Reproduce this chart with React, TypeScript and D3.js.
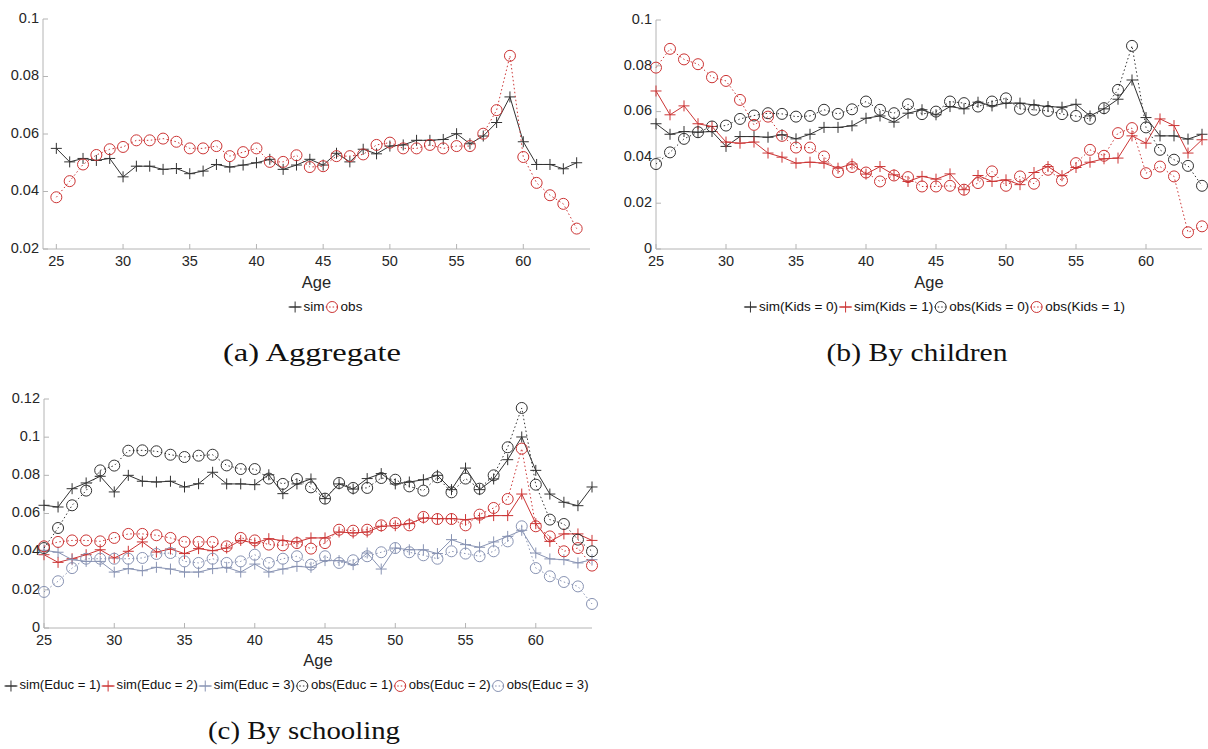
import React, { useMemo } from "react";
import * as d3 from "d3";

// ---------- data ----------
const ages = [25, 26, 27, 28, 29, 30, 31, 32, 33, 34, 35, 36, 37, 38, 39, 40, 41, 42, 43, 44,
  45, 46, 47, 48, 49, 50, 51, 52, 53, 54, 55, 56, 57, 58, 59, 60, 61, 62, 63, 64];
const xTicks = [25, 30, 35, 40, 45, 50, 55, 60];

// (a) Aggregate
const aggSim = [0.055, 0.0503, 0.0515, 0.0508, 0.0515, 0.0451, 0.0488, 0.0488, 0.0477, 0.048,
  0.0462, 0.0471, 0.0494, 0.0485, 0.0492, 0.05, 0.0512, 0.0477, 0.0492, 0.0512,
  0.0492, 0.0533, 0.0503, 0.0547, 0.0531, 0.0558, 0.0562, 0.0578, 0.0578, 0.0581,
  0.0601, 0.0566, 0.0593, 0.064, 0.0729, 0.0573, 0.0494, 0.0494, 0.0479, 0.05];
const aggObs = [0.038, 0.0436, 0.0494, 0.0527, 0.0547, 0.0555, 0.0578, 0.0578, 0.0584, 0.0573,
  0.055, 0.055, 0.0558, 0.0523, 0.0537, 0.055, 0.0503, 0.0503, 0.0526, 0.0485,
  0.0488, 0.0523, 0.0523, 0.0529, 0.0562, 0.057, 0.055, 0.055, 0.0562, 0.055,
  0.0558, 0.0558, 0.0601, 0.0683, 0.0872, 0.052, 0.043, 0.0387, 0.0357, 0.0271];

// (b) By children
const kids0Sim = [0.0547, 0.0501, 0.0513, 0.051, 0.0513, 0.0448, 0.0491, 0.0491, 0.0488, 0.0499,
  0.0481, 0.0501, 0.0531, 0.0531, 0.0538, 0.0571, 0.0581, 0.0554, 0.0593, 0.0608,
  0.0586, 0.0622, 0.0612, 0.0641, 0.0625, 0.0637, 0.0637, 0.0629, 0.0622, 0.0619,
  0.0632, 0.0581, 0.0612, 0.0654, 0.0738, 0.0574, 0.0494, 0.0494, 0.048, 0.0501];
const kids1Sim = [0.069, 0.0586, 0.0625, 0.0547, 0.0535, 0.0467, 0.0462, 0.0467, 0.0419, 0.0401,
  0.0375, 0.0379, 0.0375, 0.0353, 0.0371, 0.0327, 0.036, 0.0324, 0.0295, 0.0317,
  0.0305, 0.0328, 0.0259, 0.0321, 0.0295, 0.0302, 0.0281, 0.0334, 0.036, 0.032,
  0.0356, 0.0379, 0.0394, 0.0397, 0.0494, 0.0462, 0.0568, 0.0539, 0.0419, 0.0477];
const kids0Obs = [0.0371, 0.0422, 0.0481, 0.051, 0.0535, 0.0539, 0.0568, 0.0583, 0.0593, 0.059,
  0.0578, 0.0581, 0.0608, 0.059, 0.061, 0.0644, 0.0608, 0.0593, 0.0632, 0.0589,
  0.06, 0.0644, 0.0637, 0.0622, 0.0644, 0.0658, 0.0612, 0.0608, 0.0603, 0.0589,
  0.0581, 0.0568, 0.0615, 0.0695, 0.0887, 0.0531, 0.0433, 0.039, 0.0363, 0.0276];
const kids1Obs = [0.0792, 0.0874, 0.0828, 0.0807, 0.075, 0.0734, 0.0651, 0.0542, 0.0578, 0.0494,
  0.0443, 0.0443, 0.0404, 0.0336, 0.0358, 0.0334, 0.0295, 0.0321, 0.0314, 0.0273,
  0.0273, 0.0276, 0.0259, 0.0288, 0.0339, 0.0276, 0.0317, 0.0285, 0.0346, 0.0299,
  0.0375, 0.0433, 0.0407, 0.0506, 0.0528, 0.0331, 0.036, 0.0317, 0.0073, 0.0099];

// (c) By schooling
const educ1Sim = [0.0643, 0.0634, 0.073, 0.076, 0.0795, 0.0713, 0.08, 0.0769, 0.0765, 0.0769,
  0.0739, 0.0756, 0.0816, 0.0755, 0.0755, 0.0751, 0.0803, 0.0704, 0.0755, 0.0781,
  0.0678, 0.0755, 0.0728, 0.0783, 0.0809, 0.0755, 0.0765, 0.0777, 0.08, 0.0725,
  0.0838, 0.0725, 0.0781, 0.0882, 0.1001, 0.0826, 0.0702, 0.0659, 0.0641, 0.0739];
const educ2Sim = [0.0384, 0.0344, 0.0363, 0.0384, 0.041, 0.0367, 0.0402, 0.0451, 0.0398, 0.0414,
  0.039, 0.0416, 0.0405, 0.0419, 0.0459, 0.0445, 0.0468, 0.0458, 0.0451, 0.0472,
  0.0472, 0.0503, 0.0498, 0.0503, 0.0533, 0.0536, 0.0547, 0.0576, 0.0573, 0.0573,
  0.0568, 0.0576, 0.0589, 0.0589, 0.0702, 0.0547, 0.0454, 0.0493, 0.0493, 0.0459];
const educ3Sim = [0.0407, 0.0397, 0.0358, 0.0349, 0.0349, 0.0293, 0.0311, 0.03, 0.0318, 0.0309,
  0.0293, 0.0293, 0.0311, 0.0318, 0.0293, 0.0335, 0.0293, 0.0309, 0.0323, 0.0318,
  0.0353, 0.0353, 0.0332, 0.0393, 0.0309, 0.0419, 0.041, 0.041, 0.039, 0.0463,
  0.0437, 0.0423, 0.0451, 0.048, 0.0512, 0.0393, 0.0362, 0.0358, 0.0341, 0.0358];
const educ1Obs = [0.0419, 0.0524, 0.0643, 0.072, 0.0826, 0.0851, 0.0929, 0.0931, 0.0926, 0.0908,
  0.0896, 0.0903, 0.0908, 0.0852, 0.0833, 0.0833, 0.0783, 0.0755, 0.0781, 0.0737,
  0.0678, 0.076, 0.0734, 0.0734, 0.0786, 0.0777, 0.0742, 0.072, 0.079, 0.0711,
  0.0783, 0.073, 0.08, 0.0947, 0.1153, 0.0751, 0.0568, 0.0545, 0.0463, 0.0402];
const educ2Obs = [0.0428, 0.0451, 0.0459, 0.0459, 0.0454, 0.0472, 0.0493, 0.0493, 0.0486, 0.0472,
  0.0451, 0.0451, 0.0451, 0.0428, 0.0472, 0.0459, 0.0437, 0.0433, 0.0445, 0.0416,
  0.0445, 0.0515, 0.051, 0.0515, 0.0538, 0.055, 0.0538, 0.0582, 0.0571, 0.0571,
  0.0538, 0.0594, 0.0629, 0.0676, 0.094, 0.0533, 0.048, 0.0402, 0.0419, 0.0327];
const educ3Obs = [0.0189, 0.0245, 0.0314, 0.0363, 0.0363, 0.0363, 0.0363, 0.0367, 0.0388, 0.0393,
  0.0349, 0.0341, 0.0363, 0.0341, 0.0349, 0.0384, 0.0341, 0.0363, 0.0376, 0.0332,
  0.0376, 0.0341, 0.0355, 0.0376, 0.0397, 0.0419, 0.0397, 0.0381, 0.0363, 0.0402,
  0.039, 0.0376, 0.0402, 0.0454, 0.0533, 0.0314, 0.0271, 0.0241, 0.0218, 0.0126];

const yTicksA = [0.02, 0.04, 0.06, 0.08, 0.1];
const yTicksB = [0, 0.02, 0.04, 0.06, 0.08, 0.1];
const yTicksC = [0, 0.02, 0.04, 0.06, 0.08, 0.1, 0.12];

const legendA = ["sim", "obs"];
const legendB = ["sim(Kids = 0)", "sim(Kids = 1)", "obs(Kids = 0)", "obs(Kids = 1)"];
const legendC = ["sim(Educ = 1)", "sim(Educ = 2)", "sim(Educ = 3)", "obs(Educ = 1)", "obs(Educ = 2)", "obs(Educ = 3)"];

// ---------- style ----------
const BLACK = "#333333";
const RED = "#cc3535";
const BLUE = "#8893b3";
const AXIS = "#b4b4b4";
const TEXT = "#262626";
const SANS = "'Liberation Sans', Arial, Helvetica, sans-serif";
const SERIF = "'Liberation Serif', 'Times New Roman', serif";

type Series = { values: number[]; color: string; kind: "sim" | "obs"; label: string };

function mk(values: number[], color: string, kind: "sim" | "obs", label: string): Series {
  return { values, color, kind, label };
}

const panels = [
  {
    key: "a",
    left: 43, right: 590, top: 19, bottom: 249,
    xDomain: [24, 65], yDomain: [0.02, 0.1], yTicks: yTicksA,
    series: [mk(aggSim, BLACK, "sim", legendA[0]), mk(aggObs, RED, "obs", legendA[1])],
    legendCx: 326, legendY: 307, legendFont: 13.5,
    ageY: 284,
    caption: "(a) Aggregate", captionCx: 312, captionY: 355, captionLen: 178,
  },
  {
    key: "b",
    left: 656, right: 1202, top: 20, bottom: 249,
    xDomain: [25, 64], yDomain: [0, 0.1], yTicks: yTicksB,
    series: [
      mk(kids0Sim, BLACK, "sim", legendB[0]), mk(kids1Sim, RED, "sim", legendB[1]),
      mk(kids0Obs, BLACK, "obs", legendB[2]), mk(kids1Obs, RED, "obs", legendB[3]),
    ],
    legendCx: 935, legendY: 307, legendFont: 13.5,
    ageY: 284,
    caption: "(b) By children", captionCx: 917, captionY: 355, captionLen: 181,
  },
  {
    key: "c",
    left: 44, right: 592, top: 399, bottom: 628,
    xDomain: [25, 64], yDomain: [0, 0.12], yTicks: yTicksC,
    series: [
      mk(educ1Sim, BLACK, "sim", legendC[0]), mk(educ2Sim, RED, "sim", legendC[1]), mk(educ3Sim, BLUE, "sim", legendC[2]),
      mk(educ1Obs, BLACK, "obs", legendC[3]), mk(educ2Obs, RED, "obs", legendC[4]), mk(educ3Obs, BLUE, "obs", legendC[5]),
    ],
    legendCx: 297, legendY: 686, legendFont: 13.1,
    ageY: 662,
    caption: "(c) By schooling", captionCx: 304, captionY: 733, captionLen: 192,
  },
];

const fmt = (v: number) => String(+v.toFixed(2));

let _ctx: CanvasRenderingContext2D | null = null;
function measure(text: string, font: string): number {
  if (!_ctx) _ctx = document.createElement("canvas").getContext("2d");
  if (!_ctx) return text.length * 7;
  _ctx.font = font;
  return _ctx.measureText(text).width;
}

function Marker({ kind, x, y, color }: { kind: "sim" | "obs"; x: number; y: number; color: string }) {
  if (kind === "sim") {
    return <path d={`M${x - 5.5},${y}H${x + 5.5}M${x},${y - 5.5}V${y + 5.5}`} stroke={color} strokeWidth={1} fill="none" />;
  }
  return <circle cx={x} cy={y} r={5.5} stroke={color} strokeWidth={1} fill="none" />;
}

function Panel({ p }: { p: (typeof panels)[number] }) {
  const x = d3.scaleLinear().domain(p.xDomain).range([p.left, p.right]);
  const y = d3.scaleLinear().domain(p.yDomain).range([p.bottom, p.top]);
  const line = d3.line<number>().x((_, i) => x(ages[i])).y((d) => y(d));
  const LF = p.legendFont;
  const legendFont = `${LF}px ${SANS}`;
  const slot = 14;
  const items = p.series.map((s) => ({ s, w: slot + measure(s.label, legendFont) + 2 }));
  const total = d3.sum(items, (d) => d.w);
  let cursor = p.legendCx - total / 2;
  const legendItems = items.map((it) => {
    const x0 = cursor;
    cursor += it.w;
    return { ...it, x0 };
  });

  return (
    <g>
      {/* axes */}
      <line x1={p.left} x2={p.right} y1={p.bottom} y2={p.bottom} stroke={AXIS} strokeWidth={1} />
      <line x1={p.left} x2={p.left} y1={p.top} y2={p.bottom} stroke={AXIS} strokeWidth={1} />
      {xTicks.map((t) => (
        <g key={`x${t}`}>
          <line x1={x(t)} x2={x(t)} y1={p.bottom} y2={p.bottom - 5} stroke={AXIS} />
          <text x={x(t)} y={p.bottom + 13} textAnchor="middle" dominantBaseline="middle" fontFamily={SANS} fontSize={14.5} fill={TEXT}>{t}</text>
        </g>
      ))}
      {p.yTicks.map((t) => (
        <g key={`y${t}`}>
          <line x1={p.left} x2={p.left + 5} y1={y(t)} y2={y(t)} stroke={AXIS} />
          <text x={p.left - 4} y={y(t)} textAnchor="end" dominantBaseline="middle" fontFamily={SANS} fontSize={14.5} fill={TEXT}>{fmt(t)}</text>
        </g>
      ))}
      <text x={(p.left + p.right) / 2} y={p.ageY} textAnchor="middle" dominantBaseline="middle" fontFamily={SANS} fontSize={16.5} fill={TEXT}>Age</text>

      {/* series */}
      {p.series.map((s, si) => (
        <g key={`s${si}`}>
          <path d={line(s.values) || ""} fill="none" stroke={s.color} strokeWidth={1}
            strokeDasharray={s.kind === "obs" ? "1.5 2.5" : undefined} />
          {s.values.map((v, i) => (
            <Marker key={i} kind={s.kind} x={x(ages[i])} y={y(v)} color={s.color} />
          ))}
        </g>
      ))}

      {/* legend */}
      {legendItems.map((it, i) => (
        <g key={`l${i}`}>
          <line x1={it.x0} x2={it.x0 + slot - 1} y1={p.legendY} y2={p.legendY} stroke={it.s.color} strokeWidth={1}
            strokeDasharray={it.s.kind === "obs" ? "1.5 2" : undefined} />
          <Marker kind={it.s.kind} x={it.x0 + (slot - 1) / 2} y={p.legendY} color={it.s.color} />
          <text x={it.x0 + slot + 1} y={p.legendY} dominantBaseline="middle" fontFamily={SANS} fontSize={LF} fill="#111">{it.s.label}</text>
        </g>
      ))}

      {/* caption */}
      <text x={p.captionCx} y={p.captionY} textAnchor="middle" dominantBaseline="middle" fontFamily={SERIF} fontSize={25}
        fill="#111" textLength={p.captionLen} lengthAdjust="spacingAndGlyphs">{p.caption}</text>
    </g>
  );
}

export default function App() {
  const W = 1208;
  const H = 749;
  const content = useMemo(() => panels.map((p) => <Panel key={p.key} p={p} />), []);
  return (
    <svg width={W} height={H} viewBox={`0 0 ${W} ${H}`}
      style={{ position: "absolute", left: 0, top: 0, display: "block", background: "#fff" }}>
      <rect x={0} y={0} width={W} height={H} fill="#fff" />
      {content}
    </svg>
  );
}
